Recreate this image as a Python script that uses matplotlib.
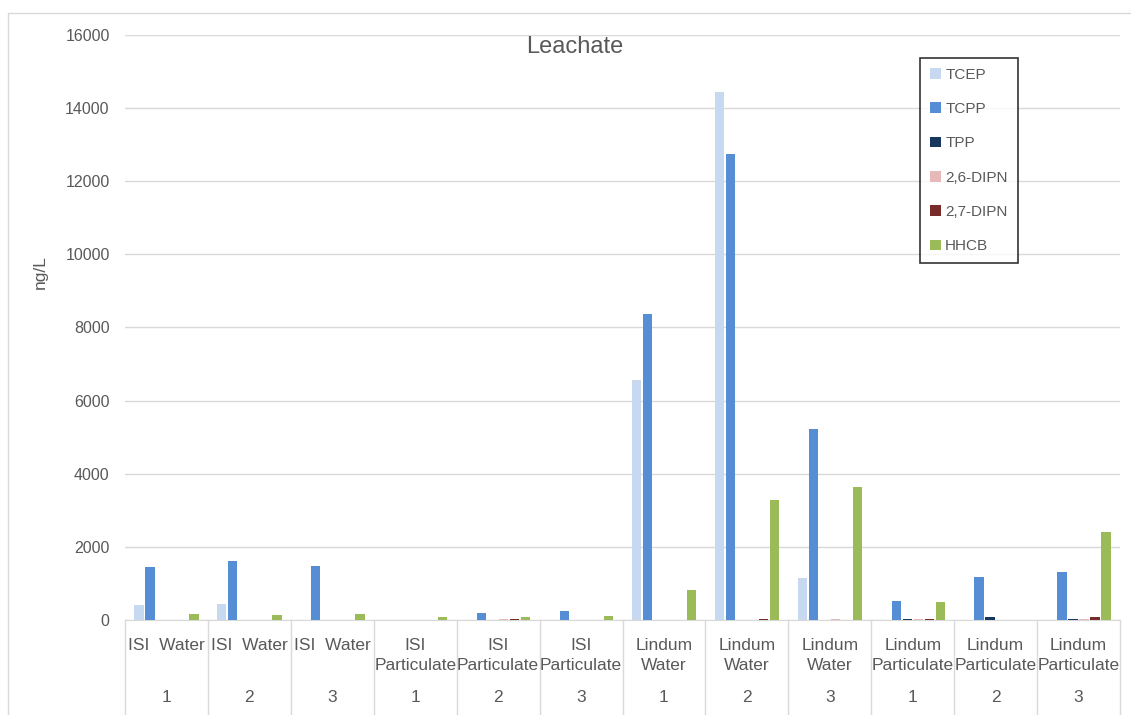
import numpy as np
import matplotlib.pyplot as plt
import matplotlib.transforms as mtransforms
from matplotlib.patches import Rectangle

plt.rcParams['font.family'] = ['Liberation Sans', 'DejaVu Sans']

# categorias (dos niveles)
etiquetas = ['ISI  Water', 'ISI  Water', 'ISI  Water',
             'ISI\nParticulate', 'ISI\nParticulate', 'ISI\nParticulate',
             'Lindum\nWater', 'Lindum\nWater', 'Lindum\nWater',
             'Lindum\nParticulate', 'Lindum\nParticulate', 'Lindum\nParticulate']
replicas = ['1', '2', '3', '1', '2', '3', '1', '2', '3', '1', '2', '3']

# valores (ng/L)
tcep = [410, 430, 0, 0, 10, 10, 6560, 14440, 1150, 10, 0, 10]
tcpp = [1450, 1620, 1490, 5, 200, 240, 8360, 12750, 5220, 510, 1170, 1300]
tpp = [0, 0, 0, 0, 5, 5, 0, 0, 0, 15, 80, 30]
dipn26 = [0, 5, 5, 5, 15, 10, 0, 10, 40, 30, 0, 40]
dipn27 = [5, 5, 10, 10, 15, 10, 0, 20, 10, 30, 0, 70]
hhcb = [160, 140, 160, 80, 80, 110, 820, 3270, 3630, 480, 0, 2410]

series = ['TCEP', 'TCPP', 'TPP', '2,6-DIPN', '2,7-DIPN', 'HHCB']
colores = ['#C6D9F1', '#558ED5', '#17375E', '#E6B9B8', '#772C2A', '#9BBB59']
datos = [tcep, tcpp, tpp, dipn26, dipn27, hhcb]

gris = '#595959'

fig = plt.figure(figsize=(11.31, 7.15), dpi=100)
ax = fig.add_axes([125/1131, 1-620/715, 995/1131, 585/715])

# borde del area del grafico
fig.patches.append(Rectangle((8/1131, -0.1), 1.2, 1-13/715+0.1, transform=fig.transFigure,
                             fill=False, edgecolor='#D9D9D9', linewidth=1))

x = np.arange(len(etiquetas))
paso = 0.133
ancho = 0.112
for k in range(len(series)):
    ax.bar(x + (k-2.5)*paso, datos[k], ancho, color=colores[k], label=series[k], zorder=3)

ax.set_xlim(-0.5, 11.5)
ax.set_ylim(0, 16000)
ax.set_yticks(np.arange(0, 16001, 2000))
ax.yaxis.grid(True, color='#D9D9D9', linewidth=1)
ax.set_axisbelow(True)
ax.tick_params(axis='y', length=0, labelsize=11.5, labelcolor=gris, pad=11)
ax.set_xticks([])
for s in ['left', 'right', 'top']:
    ax.spines[s].set_visible(False)
ax.spines['bottom'].set_color('#D9D9D9')

ax.set_ylabel('ng/L', fontsize=12.5, color=gris)
ax.yaxis.set_label_coords(-0.078, 0.595)

ax.set_title('Leachate', fontsize=17, color=gris, x=0.452, y=0.955)

# eje de categorias de dos niveles
tr = mtransforms.blended_transform_factory(ax.transData, ax.transAxes)
for i in range(len(etiquetas) + 1):
    ax.plot([i-0.5, i-0.5], [0, -0.165], transform=tr, color='#D9D9D9', linewidth=1, clip_on=False)
for i in range(len(etiquetas)):
    ax.text(i, -0.031, etiquetas[i], transform=tr, ha='center', va='top', fontsize=12.5,
            color=gris, linespacing=1.4)
    ax.text(i, -0.132, replicas[i], transform=tr, ha='center', va='center', fontsize=12.5, color=gris)

leg = ax.legend(loc='upper left', bbox_to_anchor=(0.799, 0.961), fontsize=11, frameon=True,
                fancybox=False, edgecolor='black', handlelength=0.7, handleheight=0.7,
                handletextpad=0.3, labelspacing=1.33, borderpad=0.65, borderaxespad=0)
leg.get_frame().set_linewidth(1.2)
for t in leg.get_texts():
    t.set_color(gris)

fig.savefig('out.png', dpi=100)
